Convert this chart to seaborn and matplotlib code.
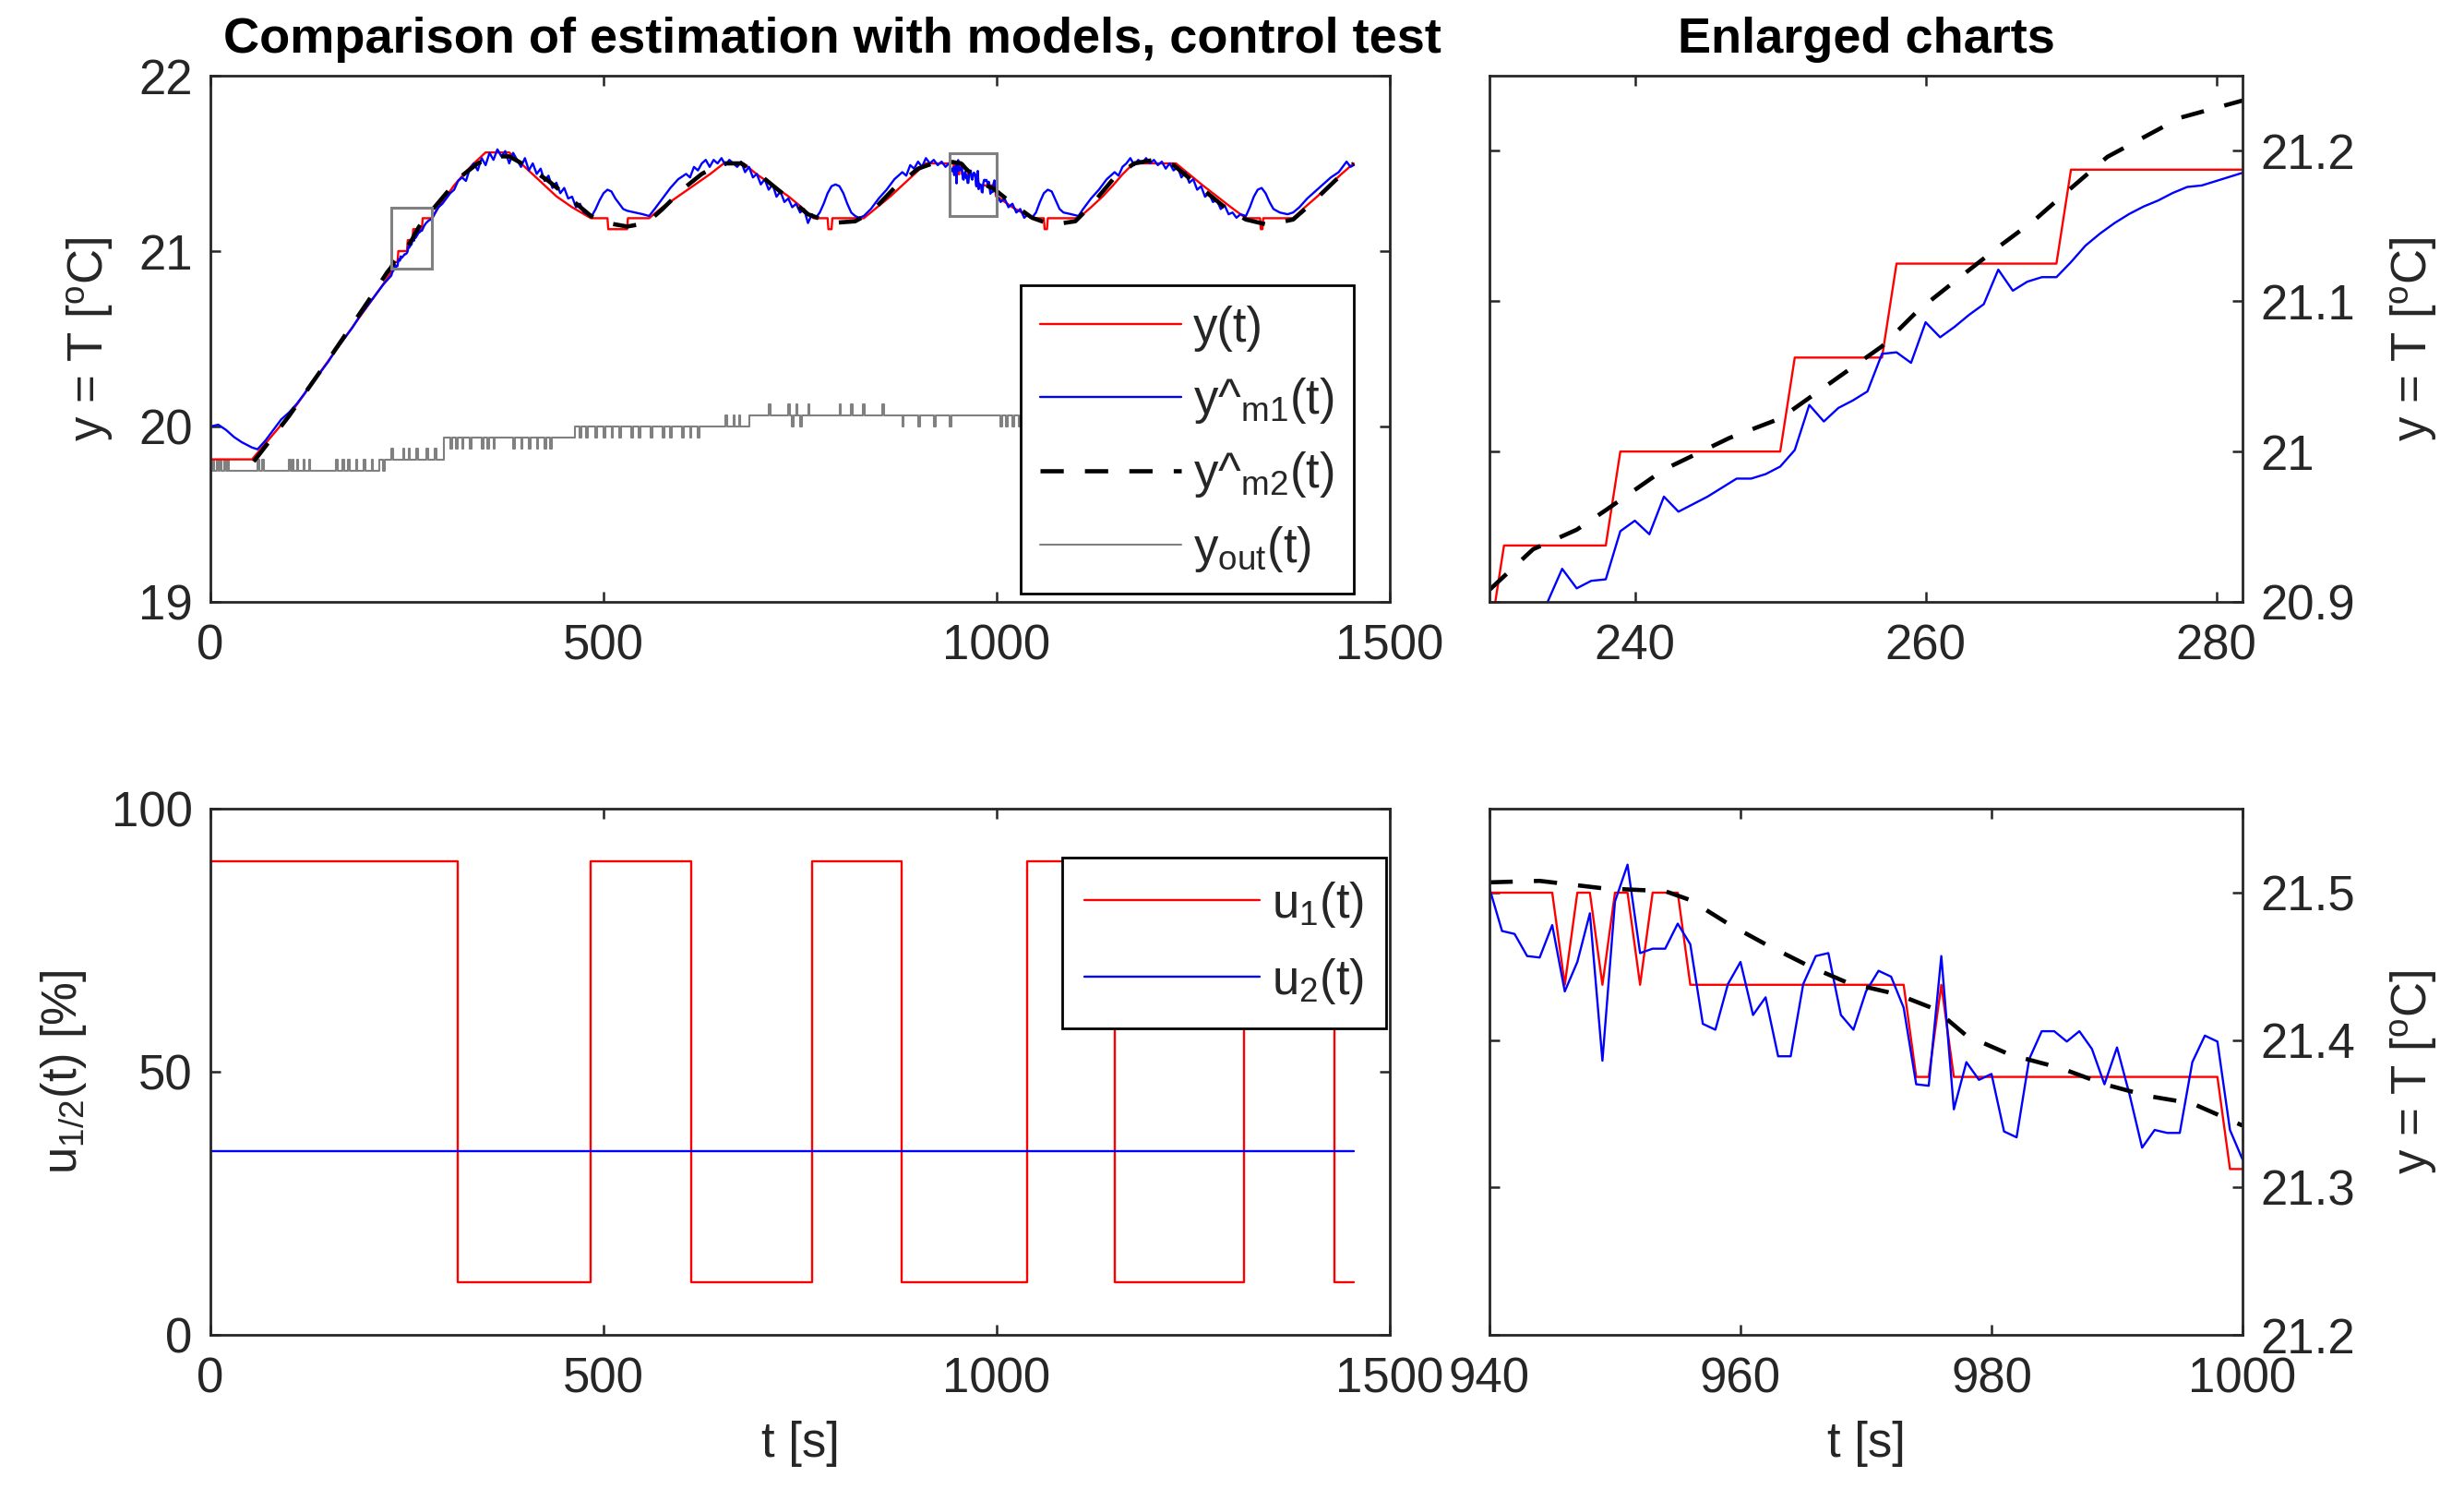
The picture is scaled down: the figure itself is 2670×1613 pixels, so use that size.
import numpy as np
import matplotlib
matplotlib.use("Agg")
import matplotlib.pyplot as plt
from matplotlib.patches import Rectangle
from matplotlib.lines import Line2D
import seaborn as sns

# ---------------- data ----------------
# zoom windows (enlarged charts)
win1_t = [230, 281.8]
win1_y = [20.9, 21.25]
win2_t = [940, 1000]
win2_y = [21.2, 21.557]

# y(t) measured temperature, overview points outside the zoom windows
red_t_coarse = [0, 53, 100, 150, 200, 220, 229,
                290, 300, 310, 322, 335, 350, 380, 395, 410, 425, 440, 460, 484, 505, 506, 530, 531,
                558, 575, 595, 615, 635, 653, 678, 695, 715, 735, 752, 767, 785, 786, 790, 791, 831,
                848, 865, 880, 895, 910, 935,
                1020, 1045, 1060, 1061, 1064, 1065, 1104, 1120, 1135, 1148, 1160, 1174, 1228, 1245,
                1262, 1280, 1298, 1317, 1335, 1336, 1338, 1339, 1377, 1392, 1408, 1423, 1438, 1454]
red_v_coarse = [19.8125, 19.8125, 20.0625, 20.375, 20.6875, 20.8125, 20.875,
                21.25, 21.3125, 21.375, 21.4375, 21.5, 21.5625, 21.5625, 21.5, 21.4375, 21.375,
                21.3125, 21.25, 21.1875, 21.1875, 21.125, 21.125, 21.1875,
                21.1875, 21.25, 21.3125, 21.375, 21.4375, 21.5, 21.5, 21.4375, 21.375, 21.3125,
                21.25, 21.1875, 21.1875, 21.125, 21.125, 21.1875, 21.1875,
                21.25, 21.3125, 21.375, 21.4375, 21.5, 21.5,
                21.25, 21.1875, 21.1875, 21.125, 21.125, 21.1875, 21.1875, 21.25, 21.3125, 21.375,
                21.4375, 21.5, 21.5, 21.4375,
                21.375, 21.3125, 21.25, 21.1875, 21.1875, 21.125, 21.125, 21.1875, 21.1875, 21.25,
                21.3125, 21.375, 21.4375, 21.5]
# y(t) inside window 1
red_t_w1 = [230, 231, 238, 239, 250, 251, 257, 258, 269, 270, 282]
red_v_w1 = [20.875, 20.9375, 20.9375, 21.0, 21.0, 21.0625, 21.0625, 21.125, 21.125, 21.1875, 21.1875]
# y(t) inside window 2
red_t_w2 = [940, 945, 946, 947, 948, 949, 950, 951, 952, 953, 955, 956, 973, 974, 975, 976, 977,
            998, 999, 1000]
red_v_w2 = [21.5, 21.5, 21.4375, 21.5, 21.5, 21.4375, 21.5, 21.5, 21.4375, 21.5, 21.5, 21.4375,
            21.4375, 21.375, 21.375, 21.4375, 21.375, 21.375, 21.3125, 21.3125]

# y^m1(t) model 1 estimate
blue_t_coarse = [0, 10, 20, 30, 40, 53, 60, 70, 80, 90, 100, 110, 120, 130, 140, 150, 160, 170,
                 180, 190, 200, 210, 220,
                 286, 290, 295, 300, 305, 310, 315, 320, 325, 330, 335, 340, 345, 350, 355, 360,
                 365, 370, 375, 380, 385, 390, 395, 400, 405, 410, 415, 420, 425, 430, 435, 440,
                 445, 450, 455, 460, 465, 470, 475, 480, 485, 490, 495, 500, 505, 510, 515, 520,
                 525, 530, 540, 550, 558, 565, 575, 585, 595, 605, 610, 615, 620, 625, 630, 635,
                 640, 645, 650, 655, 660, 665, 670, 675, 680, 685, 690, 695, 700, 705, 710, 715,
                 720, 725, 730, 735, 740, 745, 750, 755, 760, 765, 770, 775, 780, 785, 790, 795,
                 800, 805, 810, 815, 820, 825, 831, 840, 850, 860, 870, 880, 885, 890, 895, 900,
                 905, 910, 915, 920, 925, 930, 935,
                 1005, 1010, 1015, 1020, 1025, 1030, 1035, 1040, 1045, 1050, 1055, 1060, 1065,
                 1070, 1075, 1080, 1085, 1095, 1104, 1110, 1120, 1130, 1140, 1150, 1155, 1160,
                 1165, 1170, 1175, 1180, 1185, 1190, 1195, 1200, 1205, 1210, 1215, 1220, 1225,
                 1230, 1235, 1240, 1245, 1250, 1255, 1260, 1265, 1270, 1275, 1280, 1285, 1290,
                 1295, 1300, 1305, 1310, 1317, 1322, 1327, 1332, 1337, 1342, 1347, 1352, 1360,
                 1370, 1377, 1385, 1395, 1405, 1415, 1425, 1435, 1445, 1450, 1454]
blue_v_coarse = [20.00, 20.01, 19.98, 19.94, 19.91, 19.88, 19.87, 19.92, 19.98, 20.04, 20.08,
                 20.13, 20.19, 20.26, 20.31, 20.37, 20.44, 20.50, 20.56, 20.63, 20.69, 20.75, 20.81,
                 21.22, 21.25, 21.27, 21.30, 21.33, 21.35, 21.40, 21.42, 21.40, 21.47, 21.50, 21.46,
                 21.53, 21.49, 21.56, 21.52, 21.58, 21.54, 21.57, 21.50, 21.56, 21.52, 21.48, 21.53,
                 21.46, 21.50, 21.44, 21.47, 21.40, 21.43, 21.36, 21.39, 21.33, 21.36, 21.30, 21.31,
                 21.25, 21.27, 21.22, 21.21, 21.20, 21.24, 21.29, 21.33, 21.35, 21.34, 21.30, 21.27,
                 21.24, 21.23, 21.22, 21.21, 21.20, 21.24, 21.30, 21.36, 21.41, 21.44, 21.42, 21.48,
                 21.46, 21.50, 21.52, 21.48, 21.52, 21.50, 21.53, 21.49, 21.52, 21.50, 21.48, 21.51,
                 21.45, 21.48, 21.42, 21.44, 21.38, 21.41, 21.35, 21.38, 21.31, 21.34, 21.28, 21.30,
                 21.25, 21.27, 21.22, 21.24, 21.16, 21.21, 21.19, 21.22, 21.27, 21.33, 21.37, 21.38,
                 21.37, 21.33, 21.27, 21.22, 21.20, 21.19, 21.20, 21.24, 21.30, 21.35, 21.41, 21.45,
                 21.43, 21.49, 21.47, 21.51, 21.48, 21.53, 21.50, 21.52, 21.49, 21.51, 21.48,
                 21.28, 21.30, 21.25, 21.27, 21.22, 21.24, 21.19, 21.21, 21.19, 21.22, 21.28, 21.33,
                 21.35, 21.34, 21.29, 21.24, 21.22, 21.21, 21.20, 21.24, 21.30, 21.35, 21.41, 21.45,
                 21.43, 21.48, 21.50, 21.53, 21.49, 21.52, 21.50, 21.53, 21.50, 21.52, 21.49, 21.51,
                 21.47, 21.50, 21.46, 21.48, 21.42, 21.45, 21.39, 21.41, 21.35, 21.37, 21.31, 21.33,
                 21.28, 21.29, 21.24, 21.26, 21.21, 21.22, 21.19, 21.21, 21.20, 21.25, 21.31, 21.35,
                 21.36, 21.33, 21.28, 21.24, 21.22, 21.21, 21.22, 21.25, 21.30, 21.34, 21.38, 21.42,
                 21.45, 21.51, 21.48, 21.49]
blue_t_w1 = list(range(230, 283))
blue_v_w1 = [20.86, 20.875, 20.885, 20.89, 20.90, 20.922, 20.909, 20.914, 20.915, 20.947, 20.954,
             20.945, 20.970, 20.960, 20.965, 20.970, 20.976, 20.982, 20.982, 20.985, 20.990,
             21.001, 21.031, 21.020, 21.029, 21.034, 21.040, 21.065, 21.066, 21.059, 21.086,
             21.076, 21.083, 21.091, 21.098, 21.121, 21.107, 21.113, 21.116, 21.116, 21.126,
             21.137, 21.145, 21.152, 21.158, 21.163, 21.167, 21.172, 21.176, 21.177, 21.180,
             21.183, 21.186]
blue_t_w2 = list(range(940, 1001))
blue_v_w2 = [21.503, 21.474, 21.472, 21.457, 21.456, 21.478, 21.433, 21.453, 21.486, 21.386,
             21.494, 21.519, 21.459, 21.462, 21.462, 21.479, 21.465, 21.411, 21.407, 21.438,
             21.453, 21.417, 21.429, 21.389, 21.389, 21.438, 21.457, 21.459, 21.417, 21.407,
             21.433, 21.447, 21.443, 21.422, 21.370, 21.369, 21.457, 21.353, 21.385, 21.373,
             21.377, 21.338, 21.334, 21.387, 21.406, 21.406, 21.399, 21.406, 21.394, 21.370,
             21.395, 21.363, 21.327, 21.339, 21.337, 21.337, 21.385, 21.403, 21.399, 21.339,
             21.319]

# y^m2(t) model 2 estimate
black_t_coarse = [55, 100, 150, 200, 225,
                  300, 320, 340, 360, 380, 400, 430, 460, 484, 505, 530, 555, 575, 600, 625, 650,
                  675, 700, 730, 760, 790, 820, 840, 870, 900, 925,
                  1020, 1045, 1070, 1100, 1120, 1150, 1175, 1200, 1225, 1260, 1290, 1317, 1345,
                  1377, 1400, 1430, 1454]
black_v_coarse = [19.80, 20.06, 20.38, 20.71, 20.88,
                  21.33, 21.43, 21.50, 21.54, 21.54, 21.49, 21.40, 21.29, 21.20, 21.16, 21.14,
                  21.16, 21.24, 21.35, 21.44, 21.50, 21.50, 21.43, 21.32, 21.21, 21.16, 21.17,
                  21.22, 21.36, 21.47, 21.51,
                  21.27, 21.19, 21.15, 21.17, 21.26, 21.42, 21.50, 21.52, 21.49, 21.36, 21.25,
                  21.18, 21.15, 21.18, 21.27, 21.40, 21.50]
black_t_w1 = [230, 233, 236, 238, 242, 246.5, 250, 253.5, 257, 259.5, 262.5, 265, 267.5, 269.5,
              272.5, 275, 277.5, 282]
black_v_w1 = [20.908, 20.935, 20.948, 20.961, 20.988, 21.009, 21.022, 21.046, 21.070, 21.094,
              21.117, 21.136, 21.154, 21.171, 21.196, 21.209, 21.222, 21.234]
black_t_w2 = [940, 944, 949, 954, 956, 959, 962, 965.5, 968.5, 972.5, 975.5, 978, 981.5, 985.5,
              989, 992.5, 996, 1000]
black_v_w2 = [21.507, 21.508, 21.503, 21.501, 21.495, 21.479, 21.465, 21.450, 21.439, 21.431,
              21.421, 21.403, 21.390, 21.381, 21.370, 21.362, 21.357, 21.342]

# y_out(t) outside temperature (step signal)
gray_t = [0, 3, 5, 8, 10, 12, 14, 18, 20, 22, 24, 60, 62, 66, 68, 100, 102, 104, 106, 110, 112,
          118, 120, 125, 127, 160, 162, 168, 170, 175, 177, 185, 187, 195, 197, 205, 207, 215,
          220, 222, 230, 232, 245, 247, 252, 254, 262, 264, 275, 277, 285, 287, 297, 305, 307,
          312, 314, 320, 322, 330, 332, 345, 347, 352, 354, 360, 362, 385, 387, 395, 397, 405,
          407, 415, 417, 425, 427, 432, 434, 464, 470, 472, 478, 480, 490, 492, 500, 502, 510,
          512, 520, 522, 535, 537, 545, 547, 560, 562, 575, 577, 585, 587, 600, 602, 610, 612,
          620, 622, 655, 657, 665, 667, 672, 674, 685, 710, 712, 735, 737, 740, 742, 745, 747,
          750, 752, 760, 762, 800, 802, 815, 817, 830, 832, 855, 857, 880, 882, 900, 902, 920,
          922, 940, 942, 1005, 1007, 1012, 1014, 1020, 1022, 1028, 1030, 1035, 1037, 1045, 1454]
gray_v = [19.75, 19.8125, 19.75, 19.8125, 19.75, 19.8125, 19.75, 19.8125, 19.75, 19.8125, 19.75,
          19.8125, 19.75, 19.8125, 19.75, 19.8125, 19.75, 19.8125, 19.75, 19.8125, 19.75,
          19.8125, 19.75, 19.8125, 19.75, 19.8125, 19.75, 19.8125, 19.75, 19.8125, 19.75,
          19.8125, 19.75, 19.8125, 19.75, 19.8125, 19.75, 19.8125,
          19.75, 19.8125, 19.875, 19.8125, 19.875, 19.8125, 19.875, 19.8125, 19.875, 19.8125,
          19.875, 19.8125, 19.875, 19.8125, 19.9375, 19.875, 19.9375,
          19.875, 19.9375, 19.875, 19.9375, 19.875, 19.9375, 19.875, 19.9375, 19.875, 19.9375,
          19.875, 19.9375, 19.875, 19.9375, 19.875, 19.9375, 19.875,
          19.9375, 19.875, 19.9375, 19.875, 19.9375, 19.875, 19.9375, 20.0, 19.9375, 20.0,
          19.9375, 20.0, 19.9375, 20.0, 19.9375, 20.0, 19.9375,
          20.0, 19.9375, 20.0, 19.9375, 20.0, 19.9375, 20.0, 19.9375, 20.0, 19.9375, 20.0,
          19.9375, 20.0, 19.9375, 20.0, 19.9375, 20.0,
          19.9375, 20.0, 20.0625, 20.0, 20.0625, 20.0, 20.0625, 20.0, 20.0625, 20.125, 20.0625,
          20.125, 20.0625, 20.0, 20.0625, 20.125, 20.0625,
          20.0, 20.0625, 20.125, 20.0625, 20.125, 20.0625, 20.125, 20.0625, 20.125, 20.0625,
          20.125, 20.0625, 20.0, 20.0625, 20.0, 20.0625, 20.0,
          20.0625, 20.0, 20.0625, 20.0, 20.0625, 20.0, 20.0625, 20.0, 20.0625, 20.0, 20.0625,
          20.0, 20.0625, 20.0, 20.0]

# control inputs
u1_t = [0, 315, 484, 611, 765, 879, 1039, 1150, 1315, 1430, 1454]
u1_v = [90, 10, 90, 10, 90, 10, 90, 10, 90, 10, 10]
u2_t = [0, 1454]
u2_v = [35, 35]

# ticks / labels
ticks_top_x = [0, 500, 1000, 1500]
ticks_top_y = [19, 20, 21, 22]
ticks_w1_x = [240, 260, 280]
ticks_w1_y = [20.9, 21.0, 21.1, 21.2]
labels_w1_y = ["20.9", "21", "21.1", "21.2"]
ticks_bot_y = [0, 50, 100]
ticks_w2_x = [940, 960, 980, 1000]
ticks_w2_y = [21.2, 21.3, 21.4, 21.5]
labels_w2_y = ["21.2", "21.3", "21.4", "21.5"]

title_left = "Comparison of estimation with models, control test"
title_right = "Enlarged charts"
lab_T = "y = T [$^{o}$C]"
lab_u = "u$_{1/2}$(t) [%]"
lab_t = "t [s]"
leg_top = ["y(t)", "y^$_{m1}$(t)", "y^$_{m2}$(t)", "y$_{out}$(t)"]
leg_bot = ["u$_1$(t)", "u$_2$(t)"]

# ---------------- assemble overview series ----------------
def merge(*pairs):
    t = np.concatenate([np.asarray(p[0], float) for p in pairs])
    v = np.concatenate([np.asarray(p[1], float) for p in pairs])
    o = np.argsort(t, kind="stable")
    return t[o], v[o]

red_t, red_v = merge((red_t_coarse, red_v_coarse), (red_t_w1, red_v_w1), (red_t_w2, red_v_w2))
blue_t, blue_v = merge((blue_t_coarse, blue_v_coarse), (blue_t_w1, blue_v_w1), (blue_t_w2, blue_v_w2))
black_t, black_v = merge((black_t_coarse, black_v_coarse), (black_t_w1, black_v_w1), (black_t_w2, black_v_w2))

# ---------------- style ----------------
sns.set_style("white")
FS = 38
plt.rcParams['font.family'] = ['Liberation Sans', 'DejaVu Sans']
plt.rcParams['mathtext.fontset'] = 'custom'
plt.rcParams['mathtext.rm'] = 'Liberation Sans'
plt.rcParams['mathtext.it'] = 'Liberation Sans:italic'
plt.rcParams['mathtext.bf'] = 'Liberation Sans:bold'
plt.rcParams['mathtext.default'] = 'regular'

AX_COL = '#262626'
RED = '#ff0000'
BLUE = '#0000ff'
GRAY = '#808080'

fig = plt.figure(figsize=(26.7, 16.13), dpi=100)
W, H = 2670, 1613
def pos(x0, y0, x1, y1):
    return [x0 / W, 1 - y1 / H, (x1 - x0) / W, (y1 - y0) / H]

ax1 = fig.add_axes(pos(228, 82, 1506, 652))
ax2 = fig.add_axes(pos(1614, 82, 2430, 652))
ax3 = fig.add_axes(pos(228, 876, 1506, 1446))
ax4 = fig.add_axes(pos(1614, 876, 2430, 1446))

LW = 1.7
DASH = (0, (5.5, 5))
common = dict(estimator=None, sort=False)

# top-left overview
sns.lineplot(x=gray_t, y=gray_v, ax=ax1, color=GRAY, lw=1.5, drawstyle='steps-post', legend=False, **common)
sns.lineplot(x=red_t, y=red_v, ax=ax1, color=RED, lw=LW, legend=False, **common)
sns.lineplot(x=blue_t, y=blue_v, ax=ax1, color=BLUE, lw=LW, legend=False, **common)
sns.lineplot(x=black_t, y=black_v, ax=ax1, color='black', lw=3.3, linestyle=DASH, legend=False, **common)
for wt, wy in ((win1_t, win1_y), (win2_t, win2_y)):
    ax1.add_patch(Rectangle((wt[0], wy[0]), wt[1] - wt[0], wy[1] - wy[0], fill=False,
                            ec=GRAY, lw=2.2, zorder=5))
ax1.set_xlim(0, 1500)
ax1.set_ylim(19, 22)
ax1.set_xticks(ticks_top_x)
ax1.set_yticks(ticks_top_y)
ax1.set_ylabel(lab_T, fontsize=FS, labelpad=18)
ax1.set_xlabel("")
ax1.set_title(title_left, fontsize=39, fontweight='bold', pad=18, x=0.527, color='black')

h_top = [Line2D([], [], color=RED, lw=LW), Line2D([], [], color=BLUE, lw=LW),
         Line2D([], [], color='black', lw=3.3, linestyle=DASH), Line2D([], [], color=GRAY, lw=1.5)]
lg = ax1.legend(h_top, leg_top, loc='lower right', bbox_to_anchor=(0.9695, 0.016), fontsize=FS,
                frameon=True, fancybox=False, framealpha=1, edgecolor='black', borderaxespad=0,
                handlelength=2.9, handletextpad=0.25, labelspacing=0.5, borderpad=0.4)
lg.get_frame().set_linewidth(2)
lg.set_zorder(10)

# top-right enlarged window 1
sns.lineplot(x=red_t_w1, y=red_v_w1, ax=ax2, color=RED, lw=LW, legend=False, **common)
sns.lineplot(x=blue_t_w1, y=blue_v_w1, ax=ax2, color=BLUE, lw=LW, legend=False, **common)
sns.lineplot(x=black_t_w1, y=black_v_w1, ax=ax2, color='black', lw=3.3, linestyle=DASH, legend=False, **common)
ax2.set_xlim(*win1_t)
ax2.set_ylim(*win1_y)
ax2.set_xticks(ticks_w1_x)
ax2.set_yticks(ticks_w1_y)
ax2.set_yticklabels(labels_w1_y)
ax2.set_title(title_right, fontsize=39, fontweight='bold', pad=18, color='black')
ax2.set_xlabel("")

# bottom-left inputs
sns.lineplot(x=u1_t, y=u1_v, ax=ax3, color=RED, lw=LW, drawstyle='steps-post', legend=False, **common)
sns.lineplot(x=u2_t, y=u2_v, ax=ax3, color=BLUE, lw=LW, legend=False, **common)
ax3.set_xlim(0, 1500)
ax3.set_ylim(0, 100)
ax3.set_xticks(ticks_top_x)
ax3.set_yticks(ticks_bot_y)
ax3.set_xlabel(lab_t, fontsize=FS, labelpad=14)
ax3.set_ylabel(lab_u, fontsize=FS, labelpad=18)
h_bot = [Line2D([], [], color=RED, lw=LW), Line2D([], [], color=BLUE, lw=LW)]
lg2 = ax3.legend(h_bot, leg_bot, loc='upper right', bbox_to_anchor=(0.997, 0.907), fontsize=FS,
                 frameon=True, fancybox=False, framealpha=1, edgecolor='black', borderaxespad=0,
                 handlelength=3.6, handletextpad=0.25, labelspacing=0.55, borderpad=0.45)
lg2.get_frame().set_linewidth(2)
lg2.set_zorder(10)

# bottom-right enlarged window 2
sns.lineplot(x=red_t_w2, y=red_v_w2, ax=ax4, color=RED, lw=LW, legend=False, **common)
sns.lineplot(x=blue_t_w2, y=blue_v_w2, ax=ax4, color=BLUE, lw=LW, legend=False, **common)
sns.lineplot(x=black_t_w2, y=black_v_w2, ax=ax4, color='black', lw=3.3, linestyle=DASH, legend=False, **common)
ax4.set_xlim(*win2_t)
ax4.set_ylim(*win2_y)
ax4.set_xticks(ticks_w2_x)
ax4.set_yticks(ticks_w2_y)
ax4.set_yticklabels(labels_w2_y)
ax4.set_xlabel(lab_t, fontsize=FS, labelpad=14)

for ax in (ax2, ax4):
    ax.yaxis.tick_right()
    ax.yaxis.set_label_position('right')
    ax.set_ylabel(lab_T, fontsize=FS, labelpad=26)

for ax in (ax1, ax2, ax3, ax4):
    for s in ax.spines.values():
        s.set_visible(True)
        s.set_color(AX_COL)
        s.set_linewidth(2)
    ax.tick_params(direction='in', length=8, width=1.8, color=AX_COL, labelcolor=AX_COL,
                   labelsize=FS, top=True, bottom=True, left=True, right=True)
    ax.tick_params(axis='x', pad=17)
    ax.yaxis.label.set_color(AX_COL)
    ax.xaxis.label.set_color(AX_COL)
for ax in (ax1, ax3):
    ax.tick_params(axis='y', pad=14, labelleft=True, labelright=False)
for ax in (ax2, ax4):
    ax.tick_params(axis='y', pad=14, labelleft=False, labelright=True)

fig.savefig("out.png", dpi=100)
